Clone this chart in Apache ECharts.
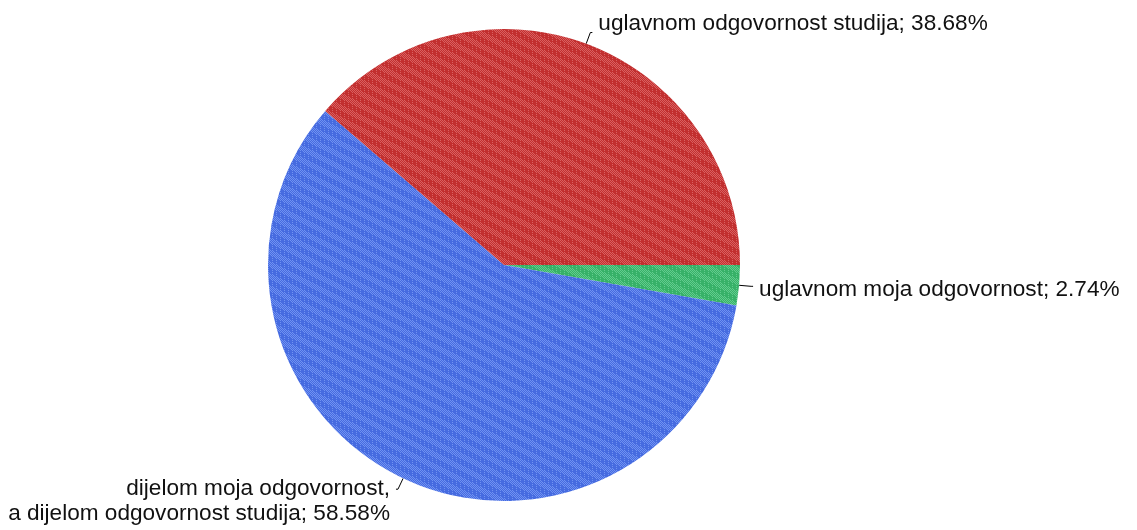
<!DOCTYPE html>
<html>
<head>
<meta charset="utf-8">
<script src="https://cdn.jsdelivr.net/npm/echarts@6/dist/echarts.min.js"></script>
<style>html,body{margin:0;padding:0;background:#fff;}#c{width:1137px;height:530px;}</style>
</head>
<body>
<div id="c"></div>
<script>
const categories = ['uglavnom moja odgovornost', 'dijelom moja odgovornost,\na dijelom odgovornost studija', 'uglavnom odgovornost studija'];
const values = [2.74, 58.58, 38.68];
const baseColors = ['#37b168', '#466be0', '#c22f2f'];
const lightColors = ['#62cc8e', '#7092f2', '#da6060'];

function makePattern(c1, c2) {
  const P = 24;
  const cv = document.createElement('canvas');
  cv.width = P; cv.height = P;
  const ctx = cv.getContext('2d');
  ctx.fillStyle = c1; ctx.fillRect(0, 0, P, P);
  ctx.fillStyle = c2;
  for (let y = 0; y < P; y++) {
    for (let x = 0; x < P; x++) {
      const ph = (((x - 2 * y) % P) + P) % P;
      const checker = (x + y) % 2;
      const on = ph < P / 2 ? checker === 0 : (checker === 0 && (y % 2 === 0) && (x % 4 < 2));
      if (on) ctx.fillRect(x, y, 1, 1);
    }
  }
  return { image: cv, repeat: 'repeat' };
}

const labelShiftY = [3, 12, -9];

const data = categories.map((n, i) => ({
  name: n, value: values[i],
  itemStyle: { color: makePattern(baseColors[i], lightColors[i]) }
}));

const chart = echarts.init(document.getElementById('c'));
chart.setOption({
  animation: false,
  series: [{
    type: 'pie',
    center: [504, 265],
    radius: 236,
    startAngle: 0,
    clockwise: true,
    avoidLabelOverlap: false,
    data: data,
    itemStyle: { borderWidth: 0 },
    label: {
      show: true,
      position: 'outside',
      formatter: '{b}; {d}%',
      color: '#111',
      fontFamily: '"Liberation Sans", Arial, sans-serif',
      fontSize: 22.6,
      lineHeight: 25,
      distanceToLabelLine: 6
    },
    labelLayout: function (p) { return { dy: labelShiftY[p.dataIndex] }; },
    labelLine: {
      show: true,
      length: 12,
      length2: 2,
      lineStyle: { color: '#000', width: 1 }
    }
  }]
});
</script>
</body>
</html>
